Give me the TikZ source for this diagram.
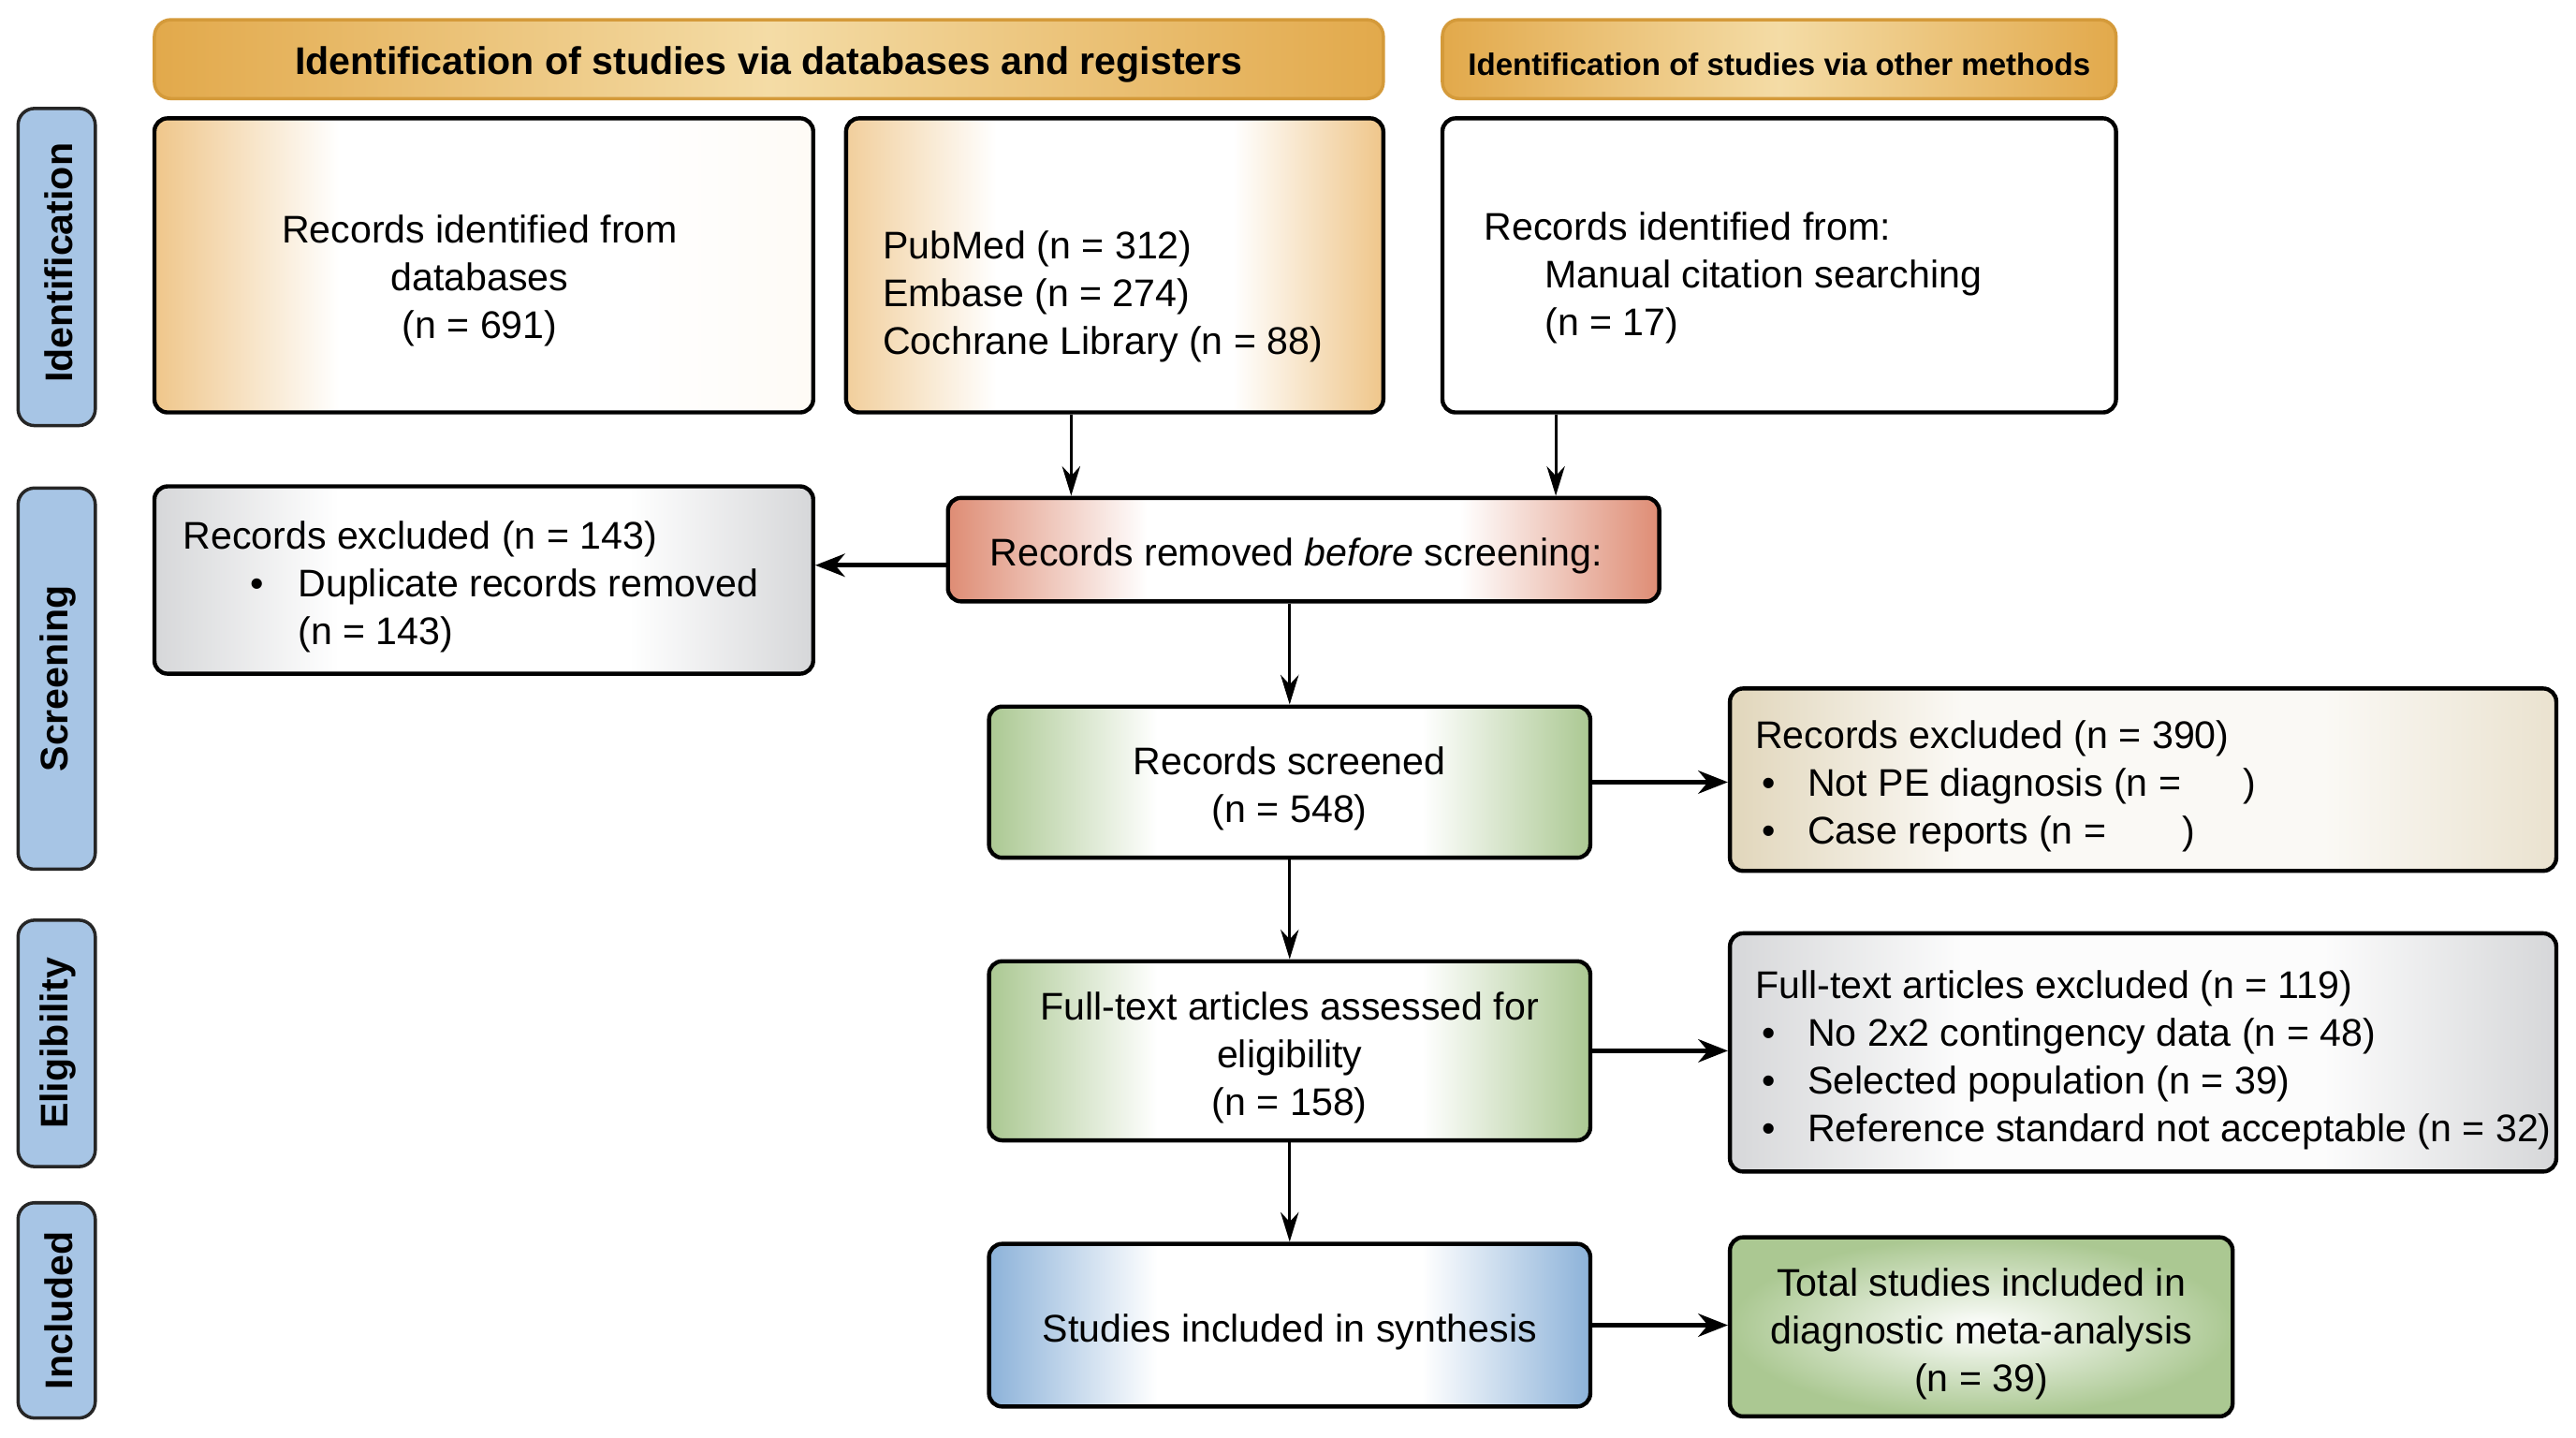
\documentclass[tikz,border=0pt]{standalone}
\usepackage{fontspec}
\setmainfont{Liberation Sans}
\usetikzlibrary{arrows.meta}
\newcommand{\uu}{0.017551cm}
\definecolor{goldE}{HTML}{E2A94B}
\definecolor{goldM}{HTML}{F4DCA6}
\definecolor{goldB}{HTML}{D49A3A}
\definecolor{sideblue}{HTML}{A7C5E5}
\definecolor{boxgold}{HTML}{EFC68A}
\definecolor{greyE}{HTML}{D6D7D9}
\definecolor{salmon}{HTML}{DE8C74}
\definecolor{greenE}{HTML}{ABC892}
\definecolor{beigeE}{HTML}{E1D6BB}
\definecolor{beigeR}{HTML}{EAE2CF}
\definecolor{blueE}{HTML}{8CB2D9}
\colorlet{lc}{white}
\colorlet{rc}{white}
\colorlet{mc}{white}
\pgfdeclarehorizontalshading[lc,rc,mc]{plateau}{100bp}{color(0bp)=(lc); color(25bp)=(lc); color(39bp)=(mc); color(61bp)=(mc); color(75bp)=(rc); color(100bp)=(rc)}
\begin{document}
\begin{tikzpicture}[x=0.017551cm, y=-0.017551cm,
  every node/.style={font=\fontsize{11.7pt}{14.5pt}\selectfont},
  box/.style={draw=black, line width=1.25pt, rounded corners=4pt, inner sep=0pt},
  plat/.style n args={3}{shade, shading=plateau, /utils/exec={\colorlet{lc}{#1}\colorlet{rc}{#2}\colorlet{mc}{#3}}},
  head/.style={draw=goldB, line width=1pt, rounded corners=5pt, inner sep=0pt,
     left color=goldE, right color=goldE, middle color=goldM},
  side/.style={draw=black!85, line width=1pt, rounded corners=5pt, fill=sideblue, inner sep=0pt},
  sidetext/.style={rotate=90, font=\fontsize{11.7pt}{13pt}\selectfont\bfseries},
  txt/.style={inner sep=0pt, align=left},
  ctxt/.style={inner sep=0pt, align=center},
  thinarr/.style={line width=0.8pt, -{Stealth[length=9pt,width=5.5pt]}},
  thickarr/.style={line width=1.3pt, -{Stealth[length=9pt,width=7pt]}}
]
\useasboundingbox (0,0) rectangle (1568,875);

% headers
\node[head, minimum width=748*\uu, minimum height=48*\uu] (h1) at (468,36) {};
\node[ctxt, font=\fontsize{11.7pt}{14pt}\selectfont\bfseries] (h1t) at (468,39) {Identification of studies via databases and registers};
\node[head, minimum width=410*\uu, minimum height=48*\uu] (h2) at (1083,36) {};
\node[ctxt, font=\fontsize{9.4pt}{11pt}\selectfont\bfseries] (h2t) at (1083,39) {Identification of studies via other methods};

% side labels
\node[side, minimum width=47*\uu, minimum height=193*\uu] (s1) at (34.5,162.5) {};
\node[sidetext] (s1t) at (35.5,160) {Identification};
\node[side, minimum width=47*\uu, minimum height=232*\uu] (s2) at (34.5,413) {};
\node[sidetext] (s2t) at (35.5,413) {Screening};
\node[side, minimum width=47*\uu, minimum height=150*\uu] (s3) at (34.5,635) {};
\node[sidetext] (s3t) at (35.5,635) {Eligibility};
\node[side, minimum width=47*\uu, minimum height=131*\uu] (s4) at (34.5,797.5) {};
\node[sidetext] (s4t) at (35.5,797.5) {Included};

% boxes
\node[box, plat={boxgold}{white!92!boxgold}{white},
      minimum width=401*\uu, minimum height=179*\uu] (A) at (294.5,161.5) {};
\node[ctxt] (At) at (292,171) {Records identified from\\databases\\(n = 691)};

\node[box, plat={boxgold!85}{boxgold}{white},
      minimum width=327*\uu, minimum height=179*\uu] (B) at (678.5,161.5) {};
\node[txt, anchor=west] (Bt) at (537,180.5) {PubMed (n = 312)\\Embase (n = 274)\\Cochrane Library (n = 88)};

\node[box, fill=white, minimum width=410*\uu, minimum height=179*\uu] (C) at (1083,161.5) {};
\node[txt, anchor=west] (Ct) at (903,169) {Records identified from:\\\hspace*{0.65cm}Manual citation searching\\\hspace*{0.65cm}(n = 17)};

\node[box, plat={greyE}{greyE}{white},
      minimum width=401*\uu, minimum height=114*\uu] (D) at (294.5,353) {};
\node[txt, anchor=west] (Dt) at (111,357) {Records excluded (n = 143)\\\hspace*{0.72cm}\makebox[0.51cm][l]{•}Duplicate records removed\\\hspace*{1.23cm}(n = 143)};

\node[box, plat={salmon}{salmon}{white},
      minimum width=433*\uu, minimum height=63*\uu] (E) at (793.5,334.5) {};
\node[ctxt] (Et) at (789,338.5) {Records removed \textit{before} screening:};

\node[box, plat={greenE}{greenE}{white},
      minimum width=366*\uu, minimum height=92*\uu] (F) at (785,476) {};
\node[ctxt] (Ft) at (785,480) {Records screened\\(n = 548)};

\node[box, plat={beigeE}{beigeR}{white!85!beigeE},
      minimum width=503*\uu, minimum height=111*\uu] (G) at (1304.5,474.5) {};
\node[txt, anchor=west] (Gt) at (1068,478.5) {Records excluded (n = 390)\\\hspace*{0.07cm}\makebox[0.49cm][l]{•}Not PE diagnosis (n = \hspace{0.55cm})\\\hspace*{0.07cm}\makebox[0.49cm][l]{•}Case reports (n = \hspace{0.7cm})};

\node[box, plat={greenE}{greenE}{white},
      minimum width=366*\uu, minimum height=109*\uu] (H) at (785,639.5) {};
\node[ctxt] (Ht) at (785,644) {Full-text articles assessed for\\eligibility\\(n = 158)};

\node[box, plat={greyE}{greyE}{white!92!greyE},
      minimum width=503*\uu, minimum height=145*\uu] (I) at (1304.5,640.5) {};
\node[txt, anchor=west] (It) at (1068,645) {Full-text articles excluded (n = 119)\\\hspace*{0.07cm}\makebox[0.49cm][l]{•}No 2x2 contingency data (n = 48)\\\hspace*{0.07cm}\makebox[0.49cm][l]{•}Selected population (n = 39)\\\hspace*{0.07cm}\makebox[0.49cm][l]{•}Reference standard not acceptable (n = 32)};

\node[box, plat={blueE}{blueE}{white},
      minimum width=366*\uu, minimum height=99*\uu] (J) at (785,806.5) {};
\node[ctxt] (Jt) at (785,810.5) {Studies included in synthesis};

\node[box, inner color=white, outer color=greenE,
      minimum width=306*\uu, minimum height=109*\uu] (K) at (1206,807.5) {};
\node[ctxt] (Kt) at (1206,812) {Total studies included in\\diagnostic meta-analysis\\(n = 39)};

% connector anchors
\coordinate (xb) at (652,0);
\coordinate (xc) at (947,0);
\coordinate (ye) at (0,344);

% connectors
\draw[thinarr] (B.south -| xb) -- (E.north -| xb);
\draw[thinarr] (C.south -| xc) -- (E.north -| xc);
\draw[thickarr] (E.west |- ye) -- (D.east |- ye);
\draw[thinarr] (E.south -| F.north) -- (F.north);
\draw[thickarr] (F.east) -- (F.east -| G.west);
\draw[thinarr] (F.south) -- (H.north);
\draw[thickarr] (H.east) -- (H.east -| I.west);
\draw[thinarr] (H.south) -- (J.north);
\draw[thickarr] (J.east) -- (J.east -| K.west);
\end{tikzpicture}
\end{document}
